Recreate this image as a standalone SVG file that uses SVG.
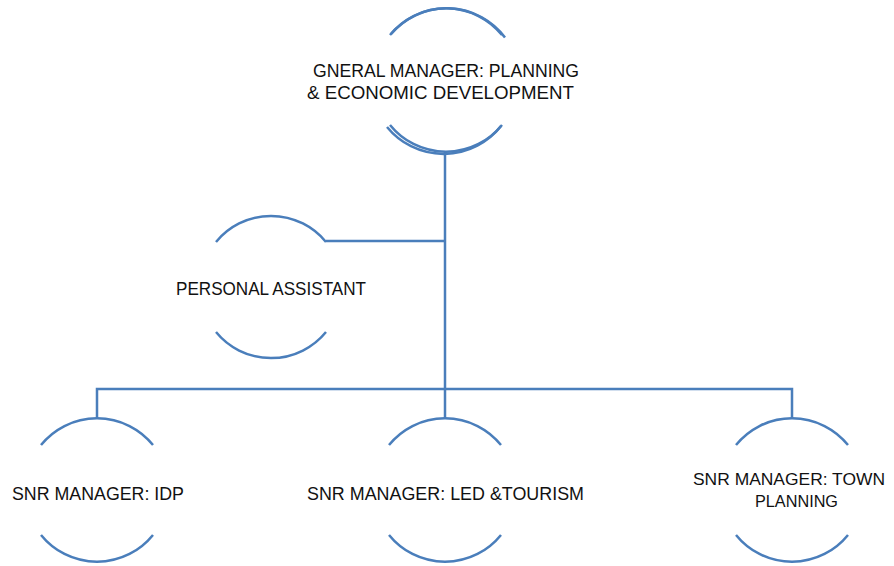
<svg xmlns="http://www.w3.org/2000/svg" width="894" height="566" viewBox="0 0 894 566">
  <style>
    .arc { fill: none; stroke: #4a7ebb; stroke-width: 2.5; stroke-linecap: butt; }
    .link { fill: none; stroke: #4a7ebb; stroke-width: 2.5; }
    .label { font-family: "Liberation Sans", Arial, sans-serif; font-size: 19px; fill: #111; }
    .label.edge { font-size: 16.5px; }
  </style>
  <rect width="894" height="566" fill="#ffffff"/>

  <!-- connectors -->
  <g id="connectors">
    <path class="link" d="M445,152 V389"/>
    <path class="link" d="M326,241 H445"/>
    <path class="link" d="M97,418 V389 H792 V418"/>
    <path class="link" d="M445,389 V418"/>
  </g>

  <!-- general manager (double outline) -->
  <g id="node-gm">
    <path class="arc" d="M390,35 A72,72 0 0 1 502,35"/>
    <path class="arc" d="M391,34 A73,73 0 0 1 505,37.5" stroke-width="2"/>
    <path class="arc" d="M390,125 A72,72 0 0 0 502,125"/>
    <path class="arc" d="M387,127 A73,73 0 0 0 501,126" stroke-width="2"/>
    <text class="label" x="313" y="77" textLength="266" lengthAdjust="spacingAndGlyphs">GNERAL MANAGER: PLANNING</text>
    <text class="label" x="307" y="99" textLength="267" lengthAdjust="spacingAndGlyphs">&amp; ECONOMIC DEVELOPMENT</text>
  </g>

  <!-- personal assistant -->
  <g id="node-pa">
    <path class="arc" d="M216,242 A71,71 0 0 1 326,242"/>
    <path class="arc" d="M216,332 A71,71 0 0 0 326,332"/>
    <text class="label" x="176" y="295" textLength="190" lengthAdjust="spacingAndGlyphs">PERSONAL ASSISTANT</text>
  </g>

  <!-- senior manager: IDP -->
  <g id="node-idp">
    <path class="arc" d="M41,445 A72,72 0 0 1 153,445"/>
    <path class="arc" d="M41,535 A72,72 0 0 0 153,535"/>
    <text class="label" x="12" y="500" textLength="172" lengthAdjust="spacingAndGlyphs">SNR MANAGER: IDP</text>
  </g>

  <!-- senior manager: LED & tourism -->
  <g id="node-led">
    <path class="arc" d="M389,445 A72,72 0 0 1 501,445"/>
    <path class="arc" d="M389,535 A72,72 0 0 0 501,535"/>
    <text class="label" x="307" y="500" textLength="277" lengthAdjust="spacingAndGlyphs">SNR MANAGER: LED &amp;TOURISM</text>
  </g>

  <!-- senior manager: town planning -->
  <g id="node-town">
    <path class="arc" d="M736,445 A72,72 0 0 1 848,445"/>
    <path class="arc" d="M736,535 A72,72 0 0 0 848,535"/>
    <text class="label edge" x="693" y="485" textLength="192" lengthAdjust="spacingAndGlyphs">SNR MANAGER: TOWN</text>
    <text class="label edge" x="755" y="507" textLength="83" lengthAdjust="spacingAndGlyphs">PLANNING</text>
  </g>
</svg>
